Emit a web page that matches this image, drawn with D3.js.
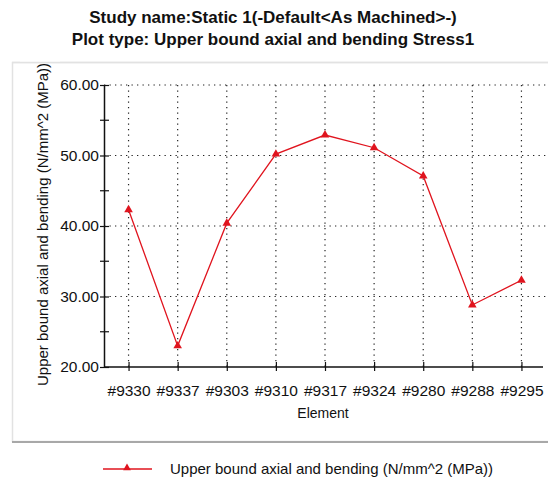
<!DOCTYPE html>
<html><head><meta charset="utf-8">
<script src="https://cdn.jsdelivr.net/npm/d3@7"></script>
<style>
html,body{margin:0;padding:0;background:#fff;}
svg{display:block;font-family:"Liberation Sans",Arial,sans-serif;}
</style></head>
<body>
<svg id="chart" width="548" height="481"></svg>
<script>
const titleLines = ["Study name:Static 1(-Default<As Machined>-)", "Plot type: Upper bound axial and bending Stress1"];
const categories = ["#9330","#9337","#9303","#9310","#9317","#9324","#9280","#9288","#9295"];
const values = [42.3, 23.0, 40.4, 50.2, 52.9, 51.1, 47.1, 28.8, 32.3];
const yTicks = [20, 30, 40, 50, 60];
const yMinorTicks = [25, 35, 45, 55];
const yLabel = "Upper bound axial and bending (N/mm^2 (MPa))";
const xLabel = "Element";
const seriesName = "Upper bound axial and bending (N/mm^2 (MPa))";

(function(){
const svg = d3.select("#chart");
const pLeft = 104, pRight = 546, pTop = 85, pBottom = 367;
const red = "#e0141e";

svg.selectAll("text.title").data(titleLines).join("text")
  .attr("x", 273).attr("y", (d,i)=>23 + i*22)
  .attr("text-anchor","middle").attr("font-weight","bold").attr("font-size","17px")
  .attr("fill","#111").text(d=>d);

svg.append("rect").attr("x",12.5).attr("y",62.5).attr("width",560).attr("height",379)
  .attr("fill","none").attr("stroke","#e2e2e2").attr("stroke-width",1.5);
svg.append("line").attr("x1",12).attr("x2",548).attr("y1",442).attr("y2",442)
  .attr("stroke","#a8a8a8").attr("stroke-width",2);

const x = d3.scalePoint().domain(categories).range([pLeft, pRight]).padding(0.5);
const y = d3.scaleLinear().domain([20, 60]).range([pBottom, pTop]);

const g = svg.append("g");
g.selectAll("line.hg").data(yTicks.filter(t=>t>20)).join("line")
  .attr("x1",pLeft).attr("x2",548).attr("y1",d=>y(d)).attr("y2",d=>y(d))
  .attr("stroke","#222").attr("stroke-width",1.2).attr("stroke-dasharray","1.3,4.2");
g.selectAll("line.vg").data(categories).join("line")
  .attr("x1",d=>x(d)).attr("x2",d=>x(d)).attr("y1",pTop).attr("y2",pBottom)
  .attr("stroke","#222").attr("stroke-width",1.2).attr("stroke-dasharray","1.3,4.2");

const yAxis = svg.append("g").attr("transform",`translate(${pLeft},0)`)
  .call(d3.axisLeft(y).tickValues(yTicks).tickFormat(d3.format(".2f")).tickSizeInner(4).tickSizeOuter(0));
yAxis.select(".domain").attr("stroke","#111").attr("stroke-width",1.5);
yAxis.selectAll(".tick line").attr("x2",5).attr("x1",-4).attr("stroke","#111").attr("stroke-width",1.2);
yAxis.selectAll(".tick text").attr("x",-5).attr("font-size","15.5px").attr("fill","#111").attr("font-family","'Liberation Sans',Arial,sans-serif");
yAxis.selectAll("line.minor").data(yMinorTicks).join("line")
  .attr("x1",-4).attr("x2",5).attr("y1",d=>y(d)).attr("y2",d=>y(d))
  .attr("stroke","#111").attr("stroke-width",1.2);

const xAxis = svg.append("g").attr("transform",`translate(0,${pBottom})`)
  .call(d3.axisBottom(x).tickSizeInner(4).tickSizeOuter(0).tickPadding(14));
xAxis.select(".domain").attr("stroke","#111").attr("stroke-width",1.5).attr("d",`M${pLeft},0H${pRight-3}`);
xAxis.selectAll(".tick line").attr("y1",-5).attr("y2",4).attr("stroke","#111").attr("stroke-width",1.2);
xAxis.selectAll(".tick text").attr("font-size","15.5px").attr("fill","#111").attr("font-family","'Liberation Sans',Arial,sans-serif");

svg.append("text").attr("x",323).attr("y",418).attr("text-anchor","middle")
  .attr("font-size","14px").attr("fill","#111").text(xLabel);
svg.append("text").attr("transform","translate(48,386) rotate(-90)").attr("text-anchor","start")
  .attr("font-size","15px").attr("fill","#111").text(yLabel);
svg.append("rect").attr("x",20).attr("y",0).attr("width",40).attr("height",62).attr("fill","#fff");
svg.append("line").attr("x1",12).attr("x2",548).attr("y1",62.5).attr("y2",62.5).attr("stroke","#e2e2e2").attr("stroke-width",1.5);

const line = d3.line().x((d,i)=>x(categories[i])).y(d=>y(d));
svg.append("path").datum(values).attr("d",line).attr("fill","none")
  .attr("stroke",red).attr("stroke-width",1.3);
const tri = d3.symbol().type(d3.symbolTriangle).size(32);
svg.selectAll("path.pt").data(values).join("path")
  .attr("transform",(d,i)=>`translate(${x(categories[i])},${y(d)})`)
  .attr("d",tri).attr("fill",red);

svg.append("line").attr("x1",103).attr("x2",152).attr("y1",469).attr("y2",469)
  .attr("stroke",red).attr("stroke-width",1.3);
svg.append("path").attr("transform","translate(127,468)").attr("d",d3.symbol().type(d3.symbolTriangle).size(26)).attr("fill",red);
svg.append("text").attr("x",170).attr("y",474).attr("font-size","15px").attr("fill","#111").text(seriesName);
})();
</script>
</body></html>
